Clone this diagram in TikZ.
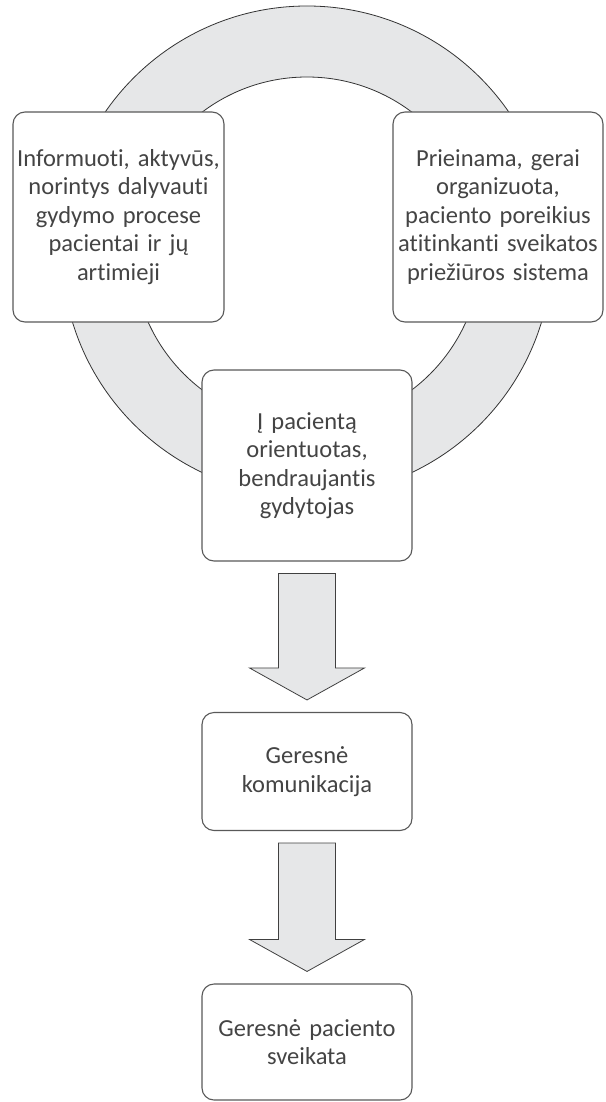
\documentclass[tikz,border=0pt]{standalone}
\usepackage{fontspec}
\setmainfont{Carlito}[Ligatures=NoCommon, RawFeature=-calt, WordSpace=0.85]
\usetikzlibrary{calc}
\definecolor{ringgray}{HTML}{E6E7E8}
\definecolor{inkgray}{HTML}{444444}
\tikzset{
  box/.style={draw=black!65, line width=1.1pt, fill=white, rounded corners=12pt,
    inner sep=0pt, align=center, text=inkgray, font=\fontsize{24.5}{28.5}\selectfont},
  blockarrow/.style={draw=black!75, line width=.8pt, fill=ringgray, line join=miter},
}
\begin{document}
\begin{tikzpicture}[x=1pt,y=-1pt]
  \def\R{245pt}\def\r{174pt}
  \useasboundingbox (0,0) rectangle (605,1102);
  \path (307,251) coordinate (O);
  % ring behind the three boxes
  \fill[ringgray,even odd rule] (O) circle (\R) (O) circle (\r);
  \draw[black!80,line width=.8pt] (O) circle (\R) (O) circle (\r);
  \node[box, text width=211pt, minimum height=210pt] (patients) at (118.5,217)
    {Informuoti, aktyvūs,\\norintys dalyvauti\\gydymo procese\\pacientai ir jų\\artimieji};
  \node[box, text width=210pt, minimum height=210pt] (system) at (498,217)
    {Prieinama, gerai\\organizuota,\\paciento poreikius\\atitinkanti sveikatos\\priežiūros sistema};
  \node[box, text width=210pt, minimum height=191pt] (doctor) at (307,465.5)
    {Į pacientą\\orientuotas,\\bendraujantis\\gydytojas};
  \node[box, text width=210pt, minimum height=118pt] (comm) at (307,771.5)
    {Geresnė\\komunikacija};
  \node[box, text width=210pt, minimum height=116pt] (health) at (307,1042)
    {Geresnė paciento\\sveikata};
  % block arrows
  \foreach \a/\b in {doctor/comm,comm/health}
    \draw[blockarrow] ($(\a.south)+(-28.5,12)$) -- ($(\b.north)+(-28.5,-44)$)
      -- ($(\b.north)+(-57.5,-44)$) -- ($(\b.north)+(0,-12)$)
      -- ($(\b.north)+(57.5,-44)$) -- ($(\b.north)+(28.5,-44)$)
      -- ($(\a.south)+(28.5,12)$) -- cycle;
\end{tikzpicture}
\end{document}
